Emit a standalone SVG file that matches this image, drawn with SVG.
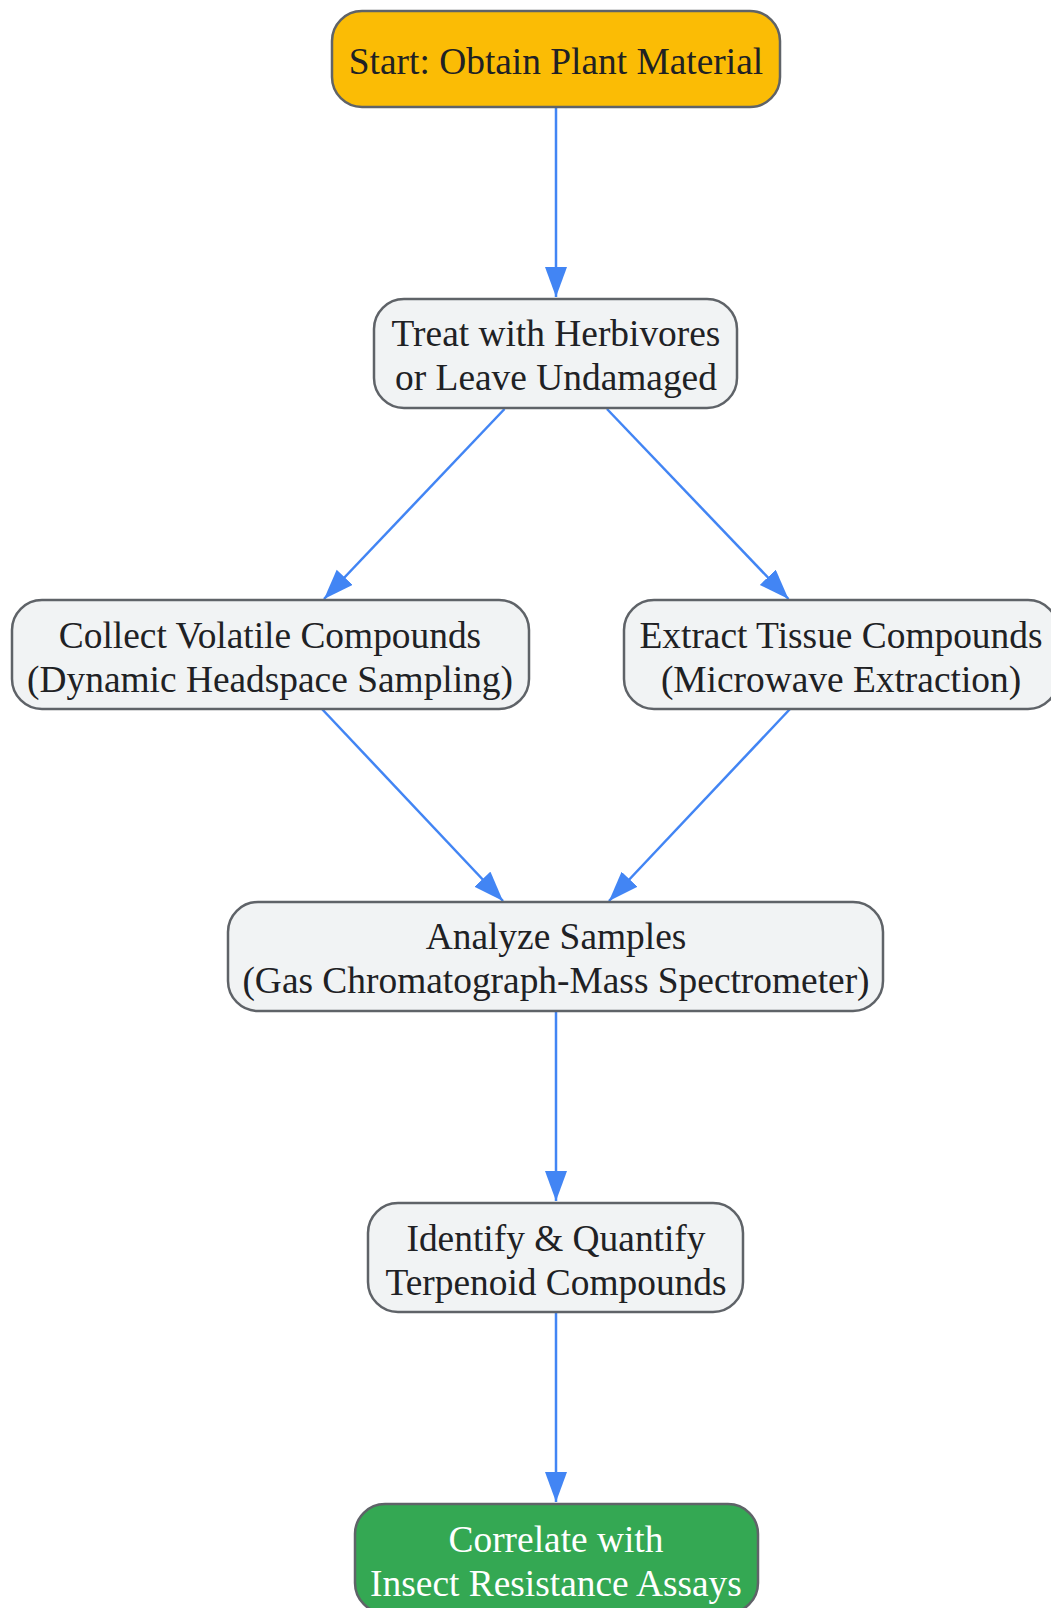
<svg xmlns="http://www.w3.org/2000/svg" width="1051" height="1608" viewBox="0 0 1051 1608">
<style>
.n rect{fill:#F1F3F4;stroke:#5F6368;stroke-width:2.5}
.n text{font-family:"Liberation Serif",serif;font-size:37.4px;fill:#202124;text-anchor:middle}
#start rect{fill:#FBBC05}
#correlate rect{fill:#34A853}
#correlate text{fill:#FFFFFF}
.e line{stroke:#4285F4;stroke-width:2.5;fill:none}
</style>
<defs>
<marker id="ah" markerUnits="userSpaceOnUse" markerWidth="32" markerHeight="24" refX="30" refY="11" orient="auto">
<path d="M0,0 L30,11 L0,22 z" fill="#4285F4"/>
</marker>
</defs>
<rect width="1051" height="1608" fill="#FFFFFF"/>
<g id="edges" class="e">
<line x1="556" y1="107" x2="556" y2="297" marker-end="url(#ah)"/>
<line x1="504.5" y1="409" x2="324" y2="599" marker-end="url(#ah)"/>
<line x1="607" y1="409" x2="788.5" y2="599" marker-end="url(#ah)"/>
<line x1="322" y1="709" x2="503" y2="901" marker-end="url(#ah)"/>
<line x1="790" y1="709" x2="609" y2="901" marker-end="url(#ah)"/>
<line x1="556" y1="1011" x2="556" y2="1201" marker-end="url(#ah)"/>
<line x1="556" y1="1312" x2="556" y2="1502" marker-end="url(#ah)"/>
</g>
<g id="start" class="n">
<rect x="332" y="11" width="448" height="96" rx="30"/>
<text x="556" y="74">Start: Obtain Plant Material</text>
</g>
<g id="treat" class="n">
<rect x="374" y="299" width="363" height="109" rx="30"/>
<text x="556" y="345.5">Treat with Herbivores</text>
<text x="556" y="389.5">or Leave Undamaged</text>
</g>
<g id="collect" class="n">
<rect x="12" y="600" width="517" height="109" rx="30"/>
<text x="270" y="647.5">Collect Volatile Compounds</text>
<text x="270" y="691.5">(Dynamic Headspace Sampling)</text>
</g>
<g id="extract" class="n">
<rect x="624" y="600" width="434" height="109" rx="30"/>
<text x="841" y="647.5">Extract Tissue Compounds</text>
<text x="841" y="691.5">(Microwave Extraction)</text>
</g>
<g id="analyze" class="n">
<rect x="228" y="902" width="655" height="109" rx="30"/>
<text x="556" y="948.5">Analyze Samples</text>
<text x="556" y="992.5">(Gas Chromatograph-Mass Spectrometer)</text>
</g>
<g id="identify" class="n">
<rect x="368" y="1203" width="375" height="109" rx="30"/>
<text x="556" y="1250.5">Identify &amp; Quantify</text>
<text x="556" y="1294.5">Terpenoid Compounds</text>
</g>
<g id="correlate" class="n">
<rect x="355" y="1504" width="403" height="109" rx="30"/>
<text x="556" y="1551.5">Correlate with</text>
<text x="556" y="1595.5">Insect Resistance Assays</text>
</g>
</svg>
